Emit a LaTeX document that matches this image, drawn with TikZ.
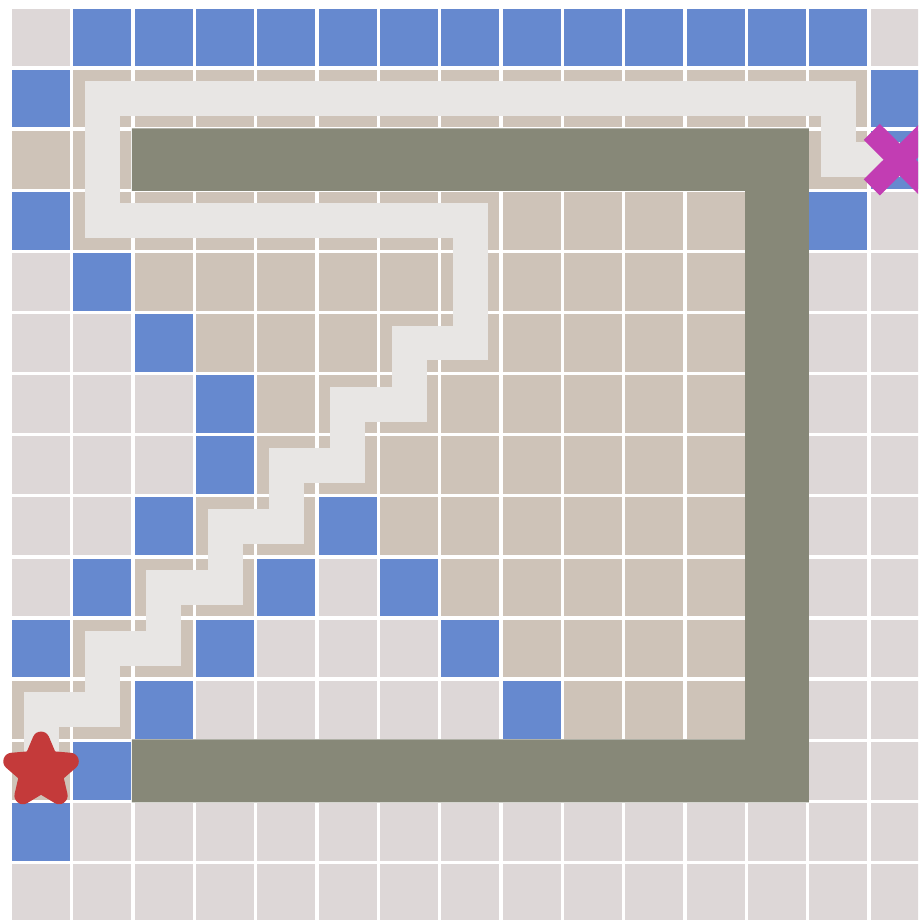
\documentclass[tikz,border=0pt]{standalone}
\definecolor{FloorGrey}{RGB}{221,215,215}
\definecolor{SeenTan}{RGB}{206,195,184}
\definecolor{FrontBlue}{RGB}{102,137,207}
\definecolor{WallGrey}{RGB}{135,136,120}
\definecolor{RouteLight}{RGB}{232,230,228}
\definecolor{StartRed}{RGB}{196,58,58}
\definecolor{GoalMagenta}{RGB}{194,61,179}
\usetikzlibrary{shapes.geometric}

\begin{document}
\begin{tikzpicture}[x=1cm, y=-0.9965cm,
    floor/.style={fill=FloorGrey},
    seen/.style={fill=SeenTan},
    front/.style={fill=FrontBlue},
    route/.style={draw=RouteLight, line width=0.57cm},
    goalx/.style={draw=GoalMagenta, line width=0.37cm}]
  \useasboundingbox (-0.196,-0.139) rectangle (14.772,14.914);
  \clip (-0.196,-0.139) rectangle (14.772,14.914);
  \fill[white] (-0.196,-0.139) rectangle (14.772,14.914);

  % floor cells
  \foreach \r in {0,...,14}
    \foreach \c in {0,...,14}
      \fill[floor] (\c,\r) rectangle ++(0.946,0.946);

  % explored cells (row/from/to)
  \foreach \r/\a/\b in {1/1/13, 2/0/1, 2/13/13, 3/1/11, 4/2/11, 5/3/11, 6/4/11,
      7/4/11, 8/3/4, 8/6/11, 9/2/3, 9/7/11, 10/1/2, 10/8/11, 11/0/1, 11/9/11, 12/0/0}
    \foreach \c in {\a,...,\b}
      \fill[seen] (\c,\r) rectangle ++(0.946,0.946);

  % frontier cells
  \foreach \c in {1,...,13}
    \fill[front] (\c,0) rectangle ++(0.946,0.946);
  \foreach \c/\r in {0/1, 14/1, 14/2, 0/3, 13/3, 1/4, 2/5, 3/6, 3/7, 2/8, 5/8,
      1/9, 4/9, 6/9, 0/10, 3/10, 7/10, 2/11, 8/11, 1/12, 0/13}
    \fill[front] (\c,\r) rectangle ++(0.946,0.946);

  % wall
  \fill[WallGrey] (1.955,1.96) -- (12.991,1.96) -- (12.991,12.99) -- (1.955,12.99)
    -- (1.955,11.96) -- (11.955,11.96) -- (11.955,2.986) -- (1.955,2.986) -- cycle;

  % route from start to goal
  \begin{scope}[shift={(0.473,0.473)}]
    \coordinate (start) at (0,12);
    \coordinate (goal) at (14,2);
    \draw[route] (start) -- (0,11) -- (1,11) -- (1,10) -- (2,10) -- (2,9) -- (3,9)
      -- (3,8) -- (4,8) -- (4,7) -- (5,7) -- (5,6) -- (6,6) -- (6,5) -- (7,5)
      -- (7,3) -- (1,3) -- (1,1) -- (13,1) -- (13,2) -- (goal);
  \end{scope}

  \node[star, star points=5, star point ratio=2.2, minimum size=1.0cm, inner sep=0pt,
    fill=StartRed, draw=StartRed, line width=0.28cm, line join=round] (startmark) at (start) {};
  \draw[goalx] ([shift={(-0.455,-0.455)}]goal) -- ([shift={(0.455,0.455)}]goal);
  \draw[goalx] ([shift={(-0.455,0.455)}]goal) -- ([shift={(0.455,-0.455)}]goal);
\end{tikzpicture}
\end{document}
